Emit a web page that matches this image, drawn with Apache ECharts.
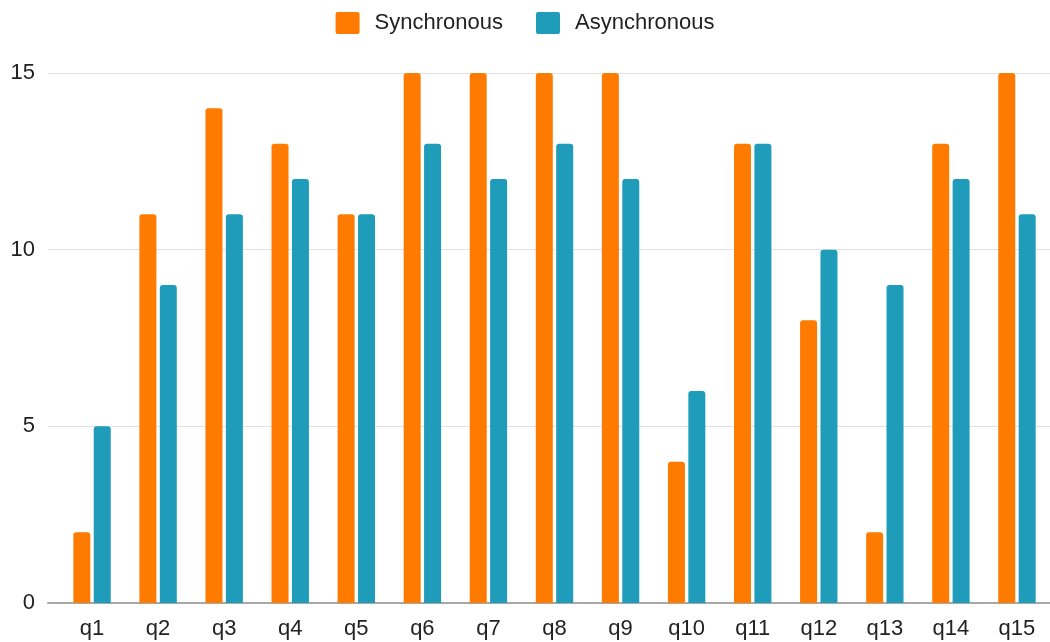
<!DOCTYPE html>
<html>
<head>
<meta charset="utf-8">
<script src="https://cdn.jsdelivr.net/npm/echarts@6/dist/echarts.min.js"></script>
<style>
  html, body { margin: 0; padding: 0; background: #fff; }
  #chart { width: 1050px; height: 642px; }
</style>
</head>
<body>
<div id="chart"></div>
<script>
const categories = ['q1','q2','q3','q4','q5','q6','q7','q8','q9','q10','q11','q12','q13','q14','q15'];
const synchronous = [2, 11, 14, 13, 11, 15, 15, 15, 15, 4, 13, 8, 2, 13, 15];
const asynchronous = [5, 9, 11, 12, 11, 13, 12, 13, 12, 6, 13, 10, 9, 12, 11];
const yTicks = { min: 0, max: 15, interval: 5 };

const FONT = '"Liberation Sans", Arial, sans-serif';
const ORANGE = '#FF7B00';
const TEAL = '#1E9CBA';
// square legend swatch with slightly rounded corners
const SWATCH = 'path://M2,0 H22 Q24,0 24,2 V20 Q24,22 22,22 H2 Q0,22 0,20 V2 Q0,0 2,0 Z';

const chart = echarts.init(document.getElementById('chart'));
chart.setOption({
  animation: false,
  textStyle: { fontFamily: FONT },
  legend: {
    top: 7,
    left: 'center',
    itemWidth: 24,
    itemHeight: 22,
    itemGap: 33,
    icon: SWATCH,
    textStyle: { fontSize: 22, color: '#222', fontFamily: FONT, padding: [0, 0, 0, 10] },
    data: ['Synchronous', 'Asynchronous']
  },
  grid: [
    // frame: value labels, split lines and baseline
    { left: 48, right: 0, top: 73, bottom: 39 },
    // bar area
    { left: 59, right: 0, top: 73, bottom: 39 }
  ],
  xAxis: [
    {
      gridIndex: 0, type: 'category', data: categories,
      axisLine: { lineStyle: { color: '#a8a8a8', width: 2 } },
      axisTick: { show: false }, axisLabel: { show: false }
    },
    {
      gridIndex: 1, type: 'category', data: categories,
      axisLine: { show: false }, axisTick: { show: false },
      axisLabel: { fontSize: 22, color: '#222', margin: 15, fontFamily: FONT }
    }
  ],
  yAxis: [
    {
      gridIndex: 0, type: 'value', min: yTicks.min, max: yTicks.max, interval: yTicks.interval,
      axisLine: { show: false }, axisTick: { show: false },
      axisLabel: { fontSize: 22, color: '#222', margin: 13, fontFamily: FONT },
      splitLine: { lineStyle: { color: '#e2e2e2', width: 1 } }
    },
    {
      gridIndex: 1, type: 'value', min: yTicks.min, max: yTicks.max, interval: yTicks.interval,
      show: false, splitLine: { show: false }
    }
  ],
  series: [
    {
      name: 'Synchronous', type: 'bar', data: synchronous,
      xAxisIndex: 1, yAxisIndex: 1,
      barWidth: 17, barGap: '20%',
      itemStyle: { color: ORANGE, borderRadius: [3, 3, 0, 0] }
    },
    {
      name: 'Asynchronous', type: 'bar', data: asynchronous,
      xAxisIndex: 1, yAxisIndex: 1,
      barWidth: 17, barGap: '20%',
      itemStyle: { color: TEAL, borderRadius: [3, 3, 0, 0] }
    }
  ]
});
</script>
</body>
</html>
